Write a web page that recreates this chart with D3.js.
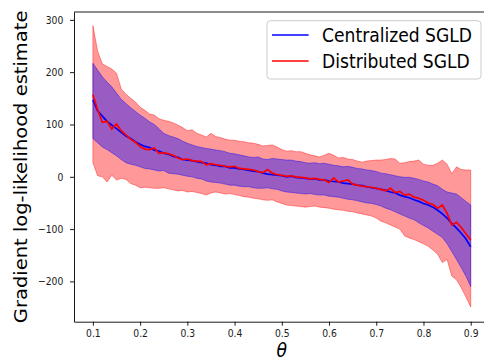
<!DOCTYPE html>
<html>
<head>
<meta charset="utf-8">
<script src="https://cdn.jsdelivr.net/npm/d3@7"></script>
<style>
  body { margin: 0; background: #fff; }
  svg { display: block; }
</style>
</head>
<body>
<div id="chart"></div>
<script>
var theta = [
  0.10, 0.11, 0.12, 0.13, 0.14, 0.15, 0.16, 0.17, 0.18, 0.19,
  0.20, 0.21, 0.22, 0.23, 0.24, 0.25, 0.26, 0.27, 0.28, 0.29,
  0.30, 0.31, 0.32, 0.33, 0.34, 0.35, 0.36, 0.37, 0.38, 0.39,
  0.40, 0.41, 0.42, 0.43, 0.44, 0.45, 0.46, 0.47, 0.48, 0.49,
  0.50, 0.51, 0.52, 0.53, 0.54, 0.55, 0.56, 0.57, 0.58, 0.59,
  0.60, 0.61, 0.62, 0.63, 0.64, 0.65, 0.66, 0.67, 0.68, 0.69,
  0.70, 0.71, 0.72, 0.73, 0.74, 0.75, 0.76, 0.77, 0.78, 0.79,
  0.80, 0.81, 0.82, 0.83, 0.84, 0.85, 0.86, 0.87, 0.88, 0.89, 0.90
];

var centralMean = [
  147, 126, 116, 106, 99, 92, 85, 78, 73, 67,
  62, 58, 56, 51, 49, 45, 43, 39, 37, 33,
  32, 31, 29, 27, 26, 23, 22, 20, 20, 17,
  17, 15, 14, 12, 11, 10, 7, 5, 4, 3,
  2, 0, 1, -1, -2, -3, -4, -4, -6, -6,
  -8, -9, -10, -12, -13, -14, -16, -17, -19, -21,
  -22, -24, -26, -29, -31, -35, -38, -40, -44, -47,
  -51, -54, -58, -64, -71, -79, -89, -98, -108, -119, -134
];
var centralHigh = [
  217, 204, 191, 181, 172, 160, 148, 140, 132, 125,
  118, 112, 105, 100, 92, 83, 79, 76, 73, 68,
  64, 61, 58, 56, 54, 53, 51, 50, 48, 45,
  44, 42, 40, 38, 37, 38, 34, 33, 35, 34,
  33, 32, 32, 30, 29, 27, 26, 27, 25, 26,
  24, 22, 21, 19, 20, 18, 16, 15, 13, 12,
  10, 7, 6, 4, 2, 0, -1, -1, -3, -5,
  -8, -10, -14, -17, -24, -29, -31, -33, -40, -47, -54
];
var centralLow = [
  73, 65, 57, 52, 46, 40, 33, 27, 24, 22,
  19, 16, 15, 13, 11, 12, 7, 6, 5, 3,
  1, 0, -3, -4, -8, -10, -11, -12, -14, -16,
  -16, -18, -19, -19, -21, -22, -22, -21, -23, -24,
  -27, -29, -30, -31, -32, -33, -32, -34, -35, -35,
  -37, -38, -39, -41, -43, -44, -46, -48, -50, -51,
  -53, -56, -60, -63, -67, -71, -75, -79, -82, -88,
  -93, -98, -104, -110, -116, -128, -143, -158, -174, -190, -210
];

var distMean = [
  157, 128, 104, 106, 91, 101, 88, 80, 72, 66,
  58, 53, 52, 55, 45, 46, 44, 41, 36, 33,
  34, 31, 30, 29, 23, 25, 23, 22, 20, 19,
  20, 16, 15, 14, 13, 10, 8, 14, 7, 4,
  3, 1, 2, 0, -1, -2, -4, -3, -5, -6,
  -11, -2, -10, -8, -6, -14, -16, -18, -19, -20,
  -22, -24, -27, -22, -30, -28, -35, -33, -39, -41,
  -45, -50, -53, -60, -54, -70, -92, -87, -97, -109, -121
];
var distHigh = [
  289, 240, 216, 211, 206, 198, 168, 158, 150, 143,
  133, 127, 120, 118, 111, 108, 106, 103, 99, 94,
  88, 90, 83, 80, 76, 83, 77, 75, 72, 70,
  70, 68, 67, 65, 64, 62, 59, 60, 61, 57,
  52, 49, 50, 48, 48, 45, 42, 40, 38, 41,
  45, 41, 36, 37, 34, 33, 30, 28, 30, 31,
  32, 32, 33, 35, 34, 26, 27, 29, 30, 32,
  24, 22, 22, 26, 32, 24, 6, 19, 14, 13, 13
];
var distLow = [
  27, 2, 0, -10, 3, -6, -3, -5, -13, -16,
  -21, -20, -21, -22, -22, -21, -23, -25, -27, -26,
  -29, -28, -30, -32, -35, -31, -29, -31, -33, -32,
  -34, -36, -38, -39, -41, -42, -44, -45, -44, -48,
  -51, -54, -55, -56, -57, -58, -57, -56, -58, -59,
  -60, -62, -63, -64, -66, -67, -69, -71, -73, -75,
  -79, -85, -88, -92, -96, -100, -113, -117, -120, -124,
  -128, -133, -140, -148, -164, -158, -190, -197, -212, -230, -249
];

var xTicks = [0.1, 0.2, 0.3, 0.4, 0.5, 0.6, 0.7, 0.8, 0.9];
var yTicks = [-200, -100, 0, 100, 200, 300];
var legendNames = ["Centralized SGLD", "Distributed SGLD"];

const width = 484;
const height = 358;
const squeeze = 0.88; // the picture is a little narrow, text too
const fontFamily = "DejaVu Sans";

var svg = d3.select("#chart").append("svg")
  .attr("width", width)
  .attr("height", height);

var x = d3.scaleLinear().domain([0.06, 0.94]).range([74, 489.6]);
var y = d3.scaleLinear().domain([-277, 315]).range([321.7, 12]);

function bandArea(lo, hi) {
  return d3.area()
    .x((d, i) => x(theta[i]))
    .y0((d, i) => y(lo[i]))
    .y1((d, i) => y(hi[i]))(theta);
}

function meanLine(vals) {
  return d3.line()
    .x((d, i) => x(theta[i]))
    .y((d, i) => y(vals[i]))(theta);
}

function bandAttr(selection, color) {
  selection
    .attr("fill", color)
    .attr("fill-opacity", 0.4)
    .attr("stroke", color)
    .attr("stroke-opacity", 0.4)
    .attr("stroke-width", 1);
}

function textAttr(selection, size) {
  selection
    .attr("fill", "black")
    .attr("font-family", fontFamily)
    .attr("font-size", size);
}

// bands: distributed under, centralized on top
svg.append("path").attr("d", bandArea(distLow, distHigh)).call(bandAttr, "red");
svg.append("path").attr("d", bandArea(centralLow, centralHigh)).call(bandAttr, "blue");

svg.append("path").attr("d", meanLine(centralMean))
  .attr("fill", "none").attr("stroke", "blue").attr("stroke-width", 1.7);
svg.append("path").attr("d", meanLine(distMean))
  .attr("fill", "none").attr("stroke", "red").attr("stroke-width", 1.7);

// axes
var xAxis = svg.append("g")
  .attr("transform", `translate(0,${y.range()[0]})`)
  .call(d3.axisBottom(x).tickValues(xTicks).tickFormat(d3.format(".1f"))
    .tickSize(4).tickSizeOuter(0).tickPadding(3.8));
var yAxis = svg.append("g")
  .attr("transform", `translate(${x.range()[0]},0)`)
  .call(d3.axisLeft(y).tickValues(yTicks).tickSize(4).tickSizeOuter(0).tickPadding(8.2));

[xAxis, yAxis].forEach(function(ax) {
  ax.selectAll("path.domain").attr("stroke", "black").attr("stroke-width", 0.9);
  ax.selectAll(".tick line").attr("stroke", "black").attr("stroke-width", 0.9);
  ax.selectAll(".tick text")
    .call(textAttr, "10.5px")
    .attr("fill", "#1a1a1a")
    .attr("transform", `scale(${squeeze},1)`);
  ax.attr("font-family", null).attr("font-size", null);
});

svg.append("line")
  .attr("x1", x.range()[0]).attr("x2", x.range()[1])
  .attr("y1", y.range()[1]).attr("y2", y.range()[1])
  .attr("stroke", "black").attr("stroke-width", 0.9);

// axis labels
svg.append("text")
  .attr("transform", `translate(27,${(y.range()[0] + y.range()[1]) / 2}) scale(${squeeze},1) rotate(-90)`)
  .attr("text-anchor", "middle")
  .call(textAttr, "19.5px")
  .text("Gradient log-likelihood estimate");

svg.append("text")
  .attr("transform", `translate(${(x.range()[0] + x.range()[1]) / 2},356.5) scale(${squeeze},1)`)
  .attr("text-anchor", "middle")
  .attr("font-style", "italic")
  .call(textAttr, "19.5px")
  .text("θ");

// legend, upper right
var legRight = x.range()[1] - 8.6;
var legTop = y.range()[1] + 8.7;
var legW = 214, legH = 58.3;
var legend = svg.append("g").attr("transform", `translate(${legRight - legW},${legTop})`);
legend.append("rect")
  .attr("width", legW).attr("height", legH)
  .attr("rx", 3.5)
  .attr("fill", "white").attr("fill-opacity", 0.8)
  .attr("stroke", "#cccccc").attr("stroke-width", 1);

var legColors = ["blue", "red"];
legendNames.forEach(function(name, i) {
  var ly = 14.3 + i * 26;
  legend.append("line")
    .attr("x1", 5).attr("x2", 41.6)
    .attr("y1", ly).attr("y2", ly)
    .attr("stroke", legColors[i]).attr("stroke-width", 1.5);
  legend.append("text")
    .attr("transform", `translate(55,${ly + 6.8}) scale(${squeeze},1)`)
    .call(textAttr, "19.5px")
    .text(name);
});
</script>
</body>
</html>
